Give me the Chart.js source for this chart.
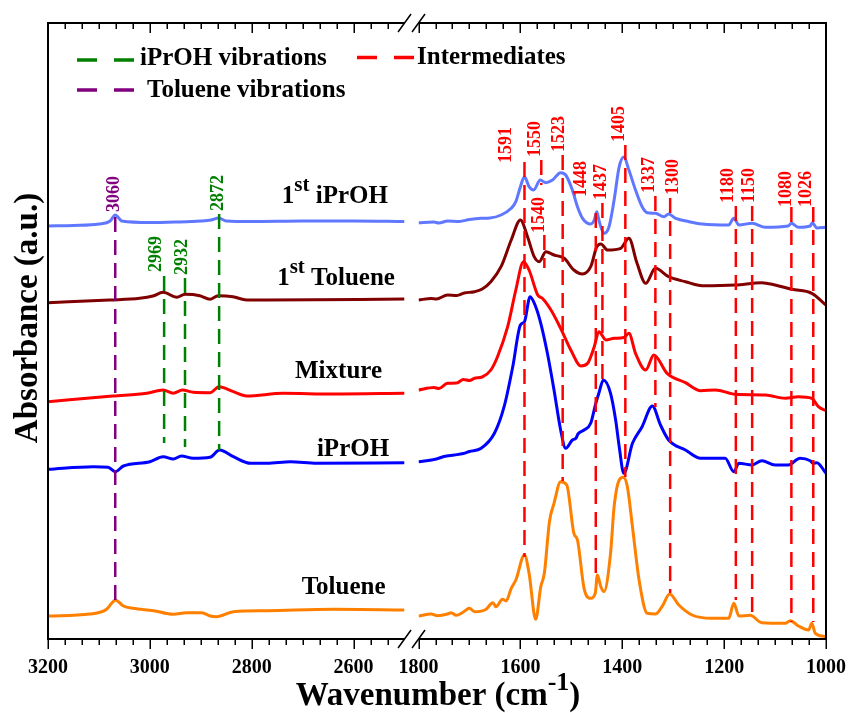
<!DOCTYPE html>
<html><head><meta charset="utf-8">
<script src="https://cdn.jsdelivr.net/npm/chart.js@4.4.1/dist/chart.umd.min.js"></script>
<style>html,body{margin:0;padding:0;background:#fff}#wrap{width:850px;height:713px;position:relative}</style>
</head><body><div id="wrap"><canvas id="c"></canvas></div>
<script>
// ---------- axis ranges / ticks ----------
const leftRange = [2500, 3200];
const rightRange = [1000, 1800];
const majorStep = 200;
const minorPerMajor = 6;

// ---------- spectra: [wavenumber (cm-1), absorbance (a.u., offset)] ----------
const firstIPrOH_left = [[3200,413],[3150,413.5],[3100,415],[3078,418],[3068,424],[3055,418],[3000,416.5],[2950,417],[2900,418],[2880,419],[2865,421],[2850,418],[2800,417.5],[2700,418],[2600,418],[2500,417.5]];
const firstIPrOH_right = [[1800,416.3],[1770,417],[1760,416],[1743,418],[1720,417.5],[1700,419.5],[1677,420.7],[1660,421],[1638,424],[1618,430.7],[1609,437.3],[1600,452.3],[1592,462.3],[1583,452.3],[1574,449],[1561,459],[1550,456.3],[1537,459],[1521,466.3],[1511,464],[1498,449],[1488,432.3],[1478,420.7],[1462,415],[1455,419],[1450,427.3],[1446,419],[1436,405.7],[1426,412.3],[1416,439],[1406,472.3],[1397,482],[1387,469],[1374,449],[1361,432.3],[1351,426.3],[1335,425.7],[1318,422.3],[1309,425],[1295,420.7],[1269,417.3],[1243,415],[1191,414],[1181,420.7],[1171,414],[1145,415.7],[1119,411.7],[1074,413],[1068,415.7],[1054,411.7],[1031,413],[1027,416.3],[1018,411],[1000,411.7]];

const firstToluene_left = [[3200,336.3],[3079,339],[3020,340.7],[2994,343],[2974,346.7],[2947,341.7],[2931,344.7],[2902,343.3],[2882,339.7],[2866,343.3],[2837,342.3],[2810,339],[2770,339],[2500,340]];
const firstToluene_right = [[1800,339],[1775,340.5],[1765,340],[1743,344],[1725,343.5],[1710,346],[1690,347.3],[1675,350],[1658,357.3],[1638,372.3],[1618,399],[1600,419],[1586,402.3],[1573,382.3],[1563,377.3],[1550,387.3],[1534,384],[1514,380.7],[1495,369],[1478,365],[1462,372.3],[1450,392.3],[1442,395],[1429,389],[1403,390.7],[1387,400.7],[1371,375.7],[1354,355.7],[1335,370.7],[1309,362.3],[1276,357.3],[1243,353.3],[1178,354],[1126,356.3],[1100,354],[1067,349.7],[1028,345.7],[1000,334]];

const mixture_left = [[3200,237.3],[3073,243],[3006,245.7],[2974,249],[2954,245.7],[2936,249],[2915,246.7],[2882,246.3],[2864,252.3],[2836,247.3],[2810,243],[2738,245.7],[2640,245],[2500,245.7]];
const mixture_right = [[1800,249],[1770,251.5],[1760,250.5],[1743,255.7],[1725,256],[1712,259.5],[1700,258.5],[1690,260.7],[1675,262],[1658,269],[1645,282.3],[1625,312.3],[1609,349],[1594,377.3],[1583,369],[1566,344],[1557,340.7],[1540,329],[1521,310.7],[1501,289],[1481,273],[1468,275.7],[1455,292.3],[1446,307.3],[1432,299],[1416,300.7],[1397,301.5],[1387,305.7],[1374,285.7],[1354,269],[1338,284],[1312,265.7],[1276,256.3],[1246,248.3],[1217,249],[1178,244.7],[1119,244],[1080,240.7],[1054,242.3],[1028,240.7],[1015,232.3],[1000,228.3]];

const iPrOH_left = [[3200,169.7],[3111,172.3],[3082,171.7],[3068,167.3],[3052,173],[3000,177.3],[2974,182.3],[2954,180],[2938,183],[2915,180.7],[2882,181.7],[2863,189],[2836,182.3],[2802,175.7],[2770,175.7],[2724,177.3],[2672,175.7],[2500,176.3]];
const iPrOH_right = [[1800,177.3],[1765,180],[1750,182.5],[1730,184],[1712,185.5],[1700,187.5],[1677,190.7],[1651,205.7],[1632,232.3],[1615,272.3],[1600,314],[1592,317.3],[1581,342.3],[1570,332.3],[1560,315.7],[1547,285.7],[1534,249],[1521,209],[1511,190.7],[1498,199],[1491,200.7],[1487,205],[1475,209],[1462,215.7],[1452,235.7],[1446,245.7],[1437,259],[1423,245.7],[1413,219],[1406,192.3],[1397,165.7],[1380,195.7],[1361,212.3],[1341,233],[1325,214],[1309,199],[1276,189],[1246,180.7],[1198,180.7],[1181,167.3],[1171,175.7],[1145,174],[1126,178.3],[1100,174],[1074,174],[1051,180.7],[1031,178.3],[1025,175.7],[1018,176.3],[1000,165.7]];

const toluene_left = [[3200,23],[3118,25],[3085,29.7],[3075,35.7],[3068,39],[3052,33],[3033,30.7],[2993,28.3],[2954,24.7],[2928,26.3],[2898,26.3],[2882,23],[2869,22.3],[2836,27.3],[2770,28.3],[2639,29.7],[2500,29]];
const toluene_right = [[1800,23],[1775,25],[1763,23.3],[1743,25],[1736,26.3],[1726,23.7],[1712,27],[1700,30.7],[1690,27.3],[1668,29.5],[1654,36.3],[1648,32.3],[1635,39.7],[1628,38],[1618,50.7],[1609,59],[1592,84],[1583,65.7],[1570,19.7],[1560,52.3],[1553,65.7],[1543,117.3],[1534,135.7],[1521,157.3],[1509,154],[1495,105.7],[1488,99],[1475,50.7],[1462,40.7],[1453,45.7],[1449,64],[1442,52.3],[1436,47.3],[1423,85.7],[1416,132.3],[1406,159],[1398,161.7],[1390,152.3],[1380,112.3],[1367,59],[1351,25.7],[1335,25],[1322,32.3],[1307,45],[1289,34],[1263,24],[1224,20.7],[1191,20.7],[1181,35.7],[1171,23],[1149,23.7],[1126,16.3],[1080,15.7],[1070,18.3],[1054,13],[1034,9],[1028,15.7],[1021,5.7],[1000,2.3]];

const spectrumNames = ['1st iPrOH', '1st Toluene', 'Mixture', 'iPrOH', 'Toluene'];
const spectrumColors = ['#6078FF', '#800000', '#FF0000', '#0000FF', '#FF8000'];
// label anchor [wavenumber, absorbance] of each spectrum name
const spectrumNameAnchor = [[2741,435.7],[2750,354],[2715,260.7],[2672,183],[2702,45]];

// ---------- assigned bands ----------
const peakLabels = ['3060','2969','2932','2872','1591','1550','1540','1523','1448','1437','1405','1337','1300','1180','1150','1080','1026'];
const peakGroup  = [1,0,0,0,2,2,2,2,2,2,2,2,2,2,2,2,2];
const peakLinePos = [3068,2972,2931,2864,1592,1559,1553,1517,1452,1439,1394,1335,1306,1177,1145,1068,1025];
const peakLineTop = [422,363,361,425,477,479,404,484,426,436,494,443,441,433,433,432,432];
const peakLineBottom = [39,196,192,189,82,454,371,158,66,259,162,232,46,39,19,17,17];
const peakLabelPos = [3069,2987,2936,2866,1627,1571,1563,1524,1480,1441,1405,1347,1300,1192,1151,1078,1039];
const peakLabelBase = [427,367,364,428,476,482,406,487,442,439,497,446,444,436,436,432,432];

const legendLabels = ['iPrOH vibrations', 'Toluene vibrations', 'Intermediates'];
const legendColors = ['#008000', '#800080', '#FF0000'];

const yTitle = 'Absorbance (a.u.)';
const xTitle = ['Wavenumber (cm', '-1', ')'];

// ---------- build ----------
const SERIF = '"Liberation Serif", "Times New Roman", serif';
const sides = [firstIPrOH_left, firstToluene_left, mixture_left, iPrOH_left, toluene_left];
const sidesR = [firstIPrOH_right, firstToluene_right, mixture_right, iPrOH_right, toluene_right];
const datasets = [];
spectrumNames.forEach((name, i) => {
  [[sides[i], 'xL'], [sidesR[i], 'xR']].forEach(([arr, ax]) => {
    datasets.push({
      label: name, xAxisID: ax, yAxisID: 'y', order: 2,
      data: arr.map(p => ({x: p[0], y: p[1]})),
      borderColor: spectrumColors[i], borderWidth: 3, pointRadius: 0,
      cubicInterpolationMode: 'monotone', fill: false
    });
  });
});
peakLabels.forEach((lab, i) => {
  datasets.push({
    label: lab, xAxisID: peakLinePos[i] > 2000 ? 'xL' : 'xR', yAxisID: 'y', order: 1,
    data: [{x: peakLinePos[i], y: peakLineTop[i]}, {x: peakLinePos[i], y: peakLineBottom[i]}],
    borderColor: legendColors[peakGroup[i]], borderWidth: 2.5, borderDash: [15, 8],
    pointRadius: 0, fill: false
  });
});

function buildTicks(scale) {
  const step = majorStep / minorPerMajor;
  const t = [];
  for (let i = 0; ; i++) {
    const v = scale.max - i * step;
    if (v < scale.min - 1e-6) break;
    t.push({value: Math.round(v * 1000) / 1000});
  }
  scale.ticks = t;
}
function isMajor(v) { const r = Math.round(v); return Math.abs(v - r) < 0.01 && r % majorStep === 0; }
const tickFont = {family: SERIF, size: 20, weight: 'bold', lineHeight: 1};
function fixFit(s) { s.height = 74; s.paddingLeft = 0; s.paddingRight = 0; s.paddingTop = 0; s.paddingBottom = 0; }
function xAxis(range, weight) {
  return {
    type: 'linear', position: 'bottom', stack: 'x', stackWeight: weight,
    min: range[0], max: range[1], reverse: true,
    grid: {display: false}, border: {display: false},
    afterBuildTicks: buildTicks,
    afterFit: fixFit,
    ticks: {autoSkip: false, maxRotation: 0, minRotation: 0, padding: 10.5, color: '#000', font: tickFont,
      callback: v => isMajor(v) ? String(Math.round(v)) : ''}
  };
}

const decor = {
  id: 'decor',
  afterDraw(chart) {
    const ctx = chart.ctx, a = chart.chartArea;
    const L = chart.scales.xL, R = chart.scales.xR, Y = chart.scales.y;
    ctx.save();
    ctx.strokeStyle = '#000'; ctx.lineCap = 'butt';
    // frame
    ctx.lineWidth = 2;
    ctx.beginPath();
    ctx.moveTo(a.left, a.top); ctx.lineTo(a.left, a.bottom);
    ctx.moveTo(a.right, a.top); ctx.lineTo(a.right, a.bottom);
    [a.top, a.bottom].forEach(y => {
      ctx.moveTo(a.left - 1, y); ctx.lineTo(L.right, y);
      ctx.moveTo(R.left, y); ctx.lineTo(a.right + 1, y);
    });
    ctx.stroke();
    // ticks
    ctx.lineWidth = 1.5;
    ctx.beginPath();
    [L, R].forEach(sc => {
      sc.ticks.forEach(t => {
        if (sc === L && Math.abs(t.value - sc.min) < 1e-6) return;
        const x = Math.round(sc.getPixelForValue(t.value)) + 0.25;
        const len = isMajor(t.value) ? 10 : 6;
        ctx.moveTo(x, a.bottom); ctx.lineTo(x, a.bottom + len);
        ctx.moveTo(x, a.top); ctx.lineTo(x, a.top + len);
      });
    });
    ctx.stroke();
    // axis break marks
    ctx.lineWidth = 1.5;
    ctx.beginPath();
    [a.top, a.bottom].forEach(y => {
      [L.right, R.left].forEach(x => {
        ctx.moveTo(x - 6.5, y + 9); ctx.lineTo(x + 6.5, y - 9);
      });
    });
    ctx.stroke();

    // legend
    const legendPos = [[77, 60, 140, 65], [77, 90, 147, 97], [357, 57.5, 417, 64]];
    ctx.font = 'bold 25px ' + SERIF; ctx.textBaseline = 'alphabetic'; ctx.textAlign = 'left';
    legendLabels.forEach((lab, i) => {
      const [x0, y0, tx, ty] = legendPos[i];
      ctx.strokeStyle = legendColors[i]; ctx.lineWidth = 3.5;
      ctx.beginPath();
      ctx.moveTo(x0, y0); ctx.lineTo(x0 + 20, y0);
      ctx.moveTo(x0 + 37, y0); ctx.lineTo(x0 + 57, y0);
      ctx.stroke();
      ctx.fillStyle = '#000';
      ctx.fillText(lab, tx, ty);
    });

    // spectrum names
    spectrumNames.forEach((name, i) => {
      const x = L.getPixelForValue(spectrumNameAnchor[i][0]);
      const y = Y.getPixelForValue(spectrumNameAnchor[i][1]);
      ctx.fillStyle = '#000';
      if (name.startsWith('1st')) {
        ctx.font = 'bold 25px ' + SERIF;
        ctx.fillText('1', x, y);
        let cx = x + ctx.measureText('1').width;
        ctx.font = 'bold 21px ' + SERIF;
        ctx.fillText('st', cx, y - 12);
        cx += ctx.measureText('st').width;
        ctx.font = 'bold 25px ' + SERIF;
        ctx.fillText(name.slice(3), cx, y);
      } else {
        ctx.font = 'bold 25px ' + SERIF;
        ctx.fillText(name, x, y);
      }
    });

    // peak labels
    ctx.font = 'bold 18px ' + SERIF;
    peakLabels.forEach((lab, i) => {
      const sc = peakLabelPos[i] > 2000 ? L : R;
      const x = sc.getPixelForValue(peakLabelPos[i]);
      const y = Y.getPixelForValue(peakLabelBase[i]);
      ctx.save();
      ctx.translate(x, y); ctx.rotate(-Math.PI / 2);
      ctx.fillStyle = legendColors[peakGroup[i]];
      ctx.textAlign = 'left'; ctx.textBaseline = 'middle';
      ctx.fillText(lab, 0, 0);
      ctx.restore();
    });

    // y title
    ctx.save();
    ctx.fillStyle = '#000';
    ctx.font = 'bold 33px ' + SERIF;
    ctx.translate(37, (a.top + a.bottom) / 2 - 13);
    ctx.rotate(-Math.PI / 2);
    ctx.textAlign = 'center'; ctx.textBaseline = 'alphabetic';
    ctx.fillText(yTitle, 0, 0);
    ctx.restore();

    // x title
    ctx.fillStyle = '#000'; ctx.textAlign = 'left'; ctx.textBaseline = 'alphabetic';
    const f1 = 'bold 33px ' + SERIF, f2 = 'bold 26px ' + SERIF;
    ctx.font = f1; const w1 = ctx.measureText(xTitle[0]).width, w3 = ctx.measureText(xTitle[2]).width;
    ctx.font = f2; const w2 = ctx.measureText(xTitle[1]).width;
    let tx = 438 - (w1 + w2 + w3) / 2; const ty = 705;
    ctx.font = f1; ctx.fillText(xTitle[0], tx, ty); tx += w1;
    ctx.font = f2; ctx.fillText(xTitle[1], tx, ty - 15); tx += w2;
    ctx.font = f1; ctx.fillText(xTitle[2], tx, ty);
    ctx.restore();
  }
};

new Chart(document.getElementById('c'), {
  type: 'line',
  data: {datasets},
  options: {
    responsive: true, maintainAspectRatio: false, animation: false,
    layout: {padding: {left: 48, right: 24, top: 23, bottom: 0}},
    plugins: {legend: {display: false}, tooltip: {enabled: false}},
    scales: {
      xL: xAxis(leftRange, 700),
      xG: {type: 'linear', position: 'bottom', stack: 'x', stackWeight: 27.5, min: 0, max: 1,
           grid: {display: false}, border: {display: false}, ticks: {display: false},
           afterFit: fixFit},
      xR: xAxis(rightRange, 800),
      y: {type: 'linear', display: false, min: 0, max: 616}
    }
  },
  plugins: [decor]
});
</script></body></html>
